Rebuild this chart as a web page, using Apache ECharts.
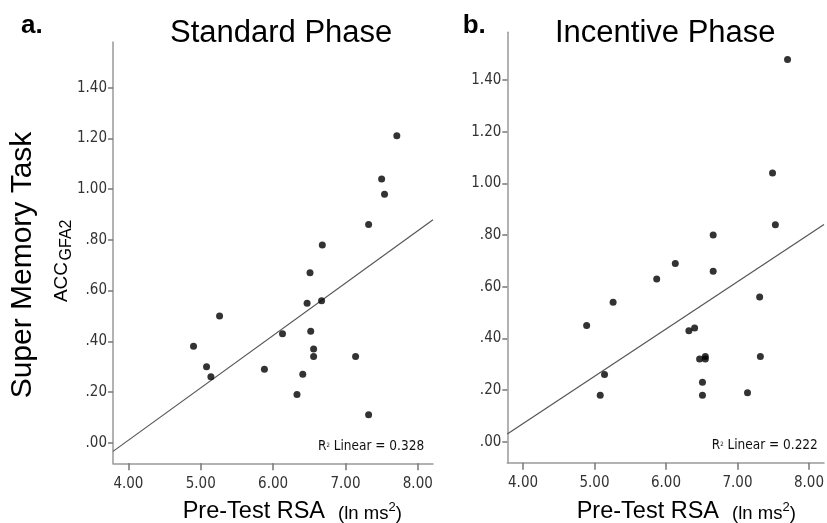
<!DOCTYPE html>
<html><head><meta charset="utf-8">
<script src="https://cdn.jsdelivr.net/npm/echarts@6/dist/echarts.min.js"></script>
<style>html,body{margin:0;padding:0;background:#fff}#c{width:827px;height:523px}</style>
</head><body><div id="c"></div>
<script>
// ---- data ----
const stdRSA = [7.71,7.50,7.54,7.32,6.68,6.51,6.47,6.67,5.26,6.13,6.52,6.56,6.56,7.14,4.90,5.08,5.14,5.88,6.41,6.33,7.32];
const stdACC = [1.21,1.04,0.98,0.86,0.78,0.67,0.55,0.56,0.50,0.43,0.44,0.37,0.34,0.34,0.38,0.30,0.26,0.29,0.27,0.19,0.11];
const incRSA = [7.70,7.49,7.53,6.66,6.13,6.66,5.87,7.31,5.26,4.89,6.32,6.40,6.47,6.55,6.55,7.32,5.14,6.51,6.51,7.14,5.08];
const incACC = [1.48,1.04,0.84,0.80,0.69,0.66,0.63,0.56,0.54,0.45,0.43,0.44,0.32,0.33,0.32,0.33,0.26,0.23,0.18,0.19,0.18];
const xTicks = [4,5,6,7,8];
const xTickLabels = ['4.00','5.00','6.00','7.00','8.00'];
const yTicks = [0,0.2,0.4,0.6,0.8,1.0,1.2,1.4];
const yTickLabels = ['.00','.20','.40','.60','.80','1.00','1.20','1.40'];
const panelTitles = ['Standard Phase','Incentive Phase'];
const panelLetters = ['a.','b.'];
const rSquared = ['0.328','0.222'];
const xAxisTitle = 'Pre-Test RSA';
const xAxisUnit = '(ln ms';
const yAxisTitle = 'Super Memory Task';
const yAxisSub = ['ACC','GFA2'];

// axis extents
const xRange = [[3.787, 8.21],[3.78, 8.21]];
const yRange = [[-0.081, 1.58],[-0.081, 1.585]];

function fit(xs, ys){
  const n = xs.length;
  const mx = xs.reduce((a,b)=>a+b,0)/n, my = ys.reduce((a,b)=>a+b,0)/n;
  let sxy=0, sxx=0;
  for (let i=0;i<n;i++){ sxy+=(xs[i]-mx)*(ys[i]-my); sxx+=(xs[i]-mx)**2; }
  const b = sxy/sxx; return {a: my-b*mx, b};
}
function lineData(xs, ys, r){
  const f = fit(xs, ys);
  return [[r[0], f.a+f.b*r[0]],[r[1], f.a+f.b*r[1]]];
}
function lab(ticks, labels){
  return v => { const i = ticks.findIndex(t => Math.abs(t-v) < 1e-6); return i>=0 ? labels[i] : ''; };
}
const narrow = '"DejaVu Sans Condensed","Liberation Sans Narrow",sans-serif';
const sans = '"Liberation Sans",Arial,sans-serif';
const axisLine = {show:true, onZero:false, lineStyle:{color:'#999', width:1.5}};
const tickStyle = {color:'#777', width:1.5};

function xAxisFor(i){
  return {gridIndex:i, type:'value', min:xRange[i][0], max:xRange[i][1],
    axisLine, splitLine:{show:false},
    axisTick:{show:true, length:7, lineStyle:tickStyle, customValues:xTicks},
    axisLabel:{customValues:xTicks, formatter:lab(xTicks,xTickLabels), margin:13,
      fontFamily:narrow, fontSize:15, color:'#333', showMinLabel:true, showMaxLabel:true}};
}
function yAxisFor(i){
  return {gridIndex:i, type:'value', min:yRange[i][0], max:yRange[i][1],
    axisLine, splitLine:{show:false},
    axisTick:{show:true, length:5, lineStyle:tickStyle, customValues:yTicks},
    axisLabel:{customValues:yTicks, formatter:lab(yTicks,yTickLabels), margin:6,
      fontFamily:narrow, fontSize:15, color:'#333', padding:[6,0,0,0]}};
}
function scatter(i, xs, ys){
  return {type:'scatter', xAxisIndex:i, yAxisIndex:i, symbolSize:7,
    itemStyle:{color:'#000'}, data: xs.map((x,k)=>[x, ys[k]]), z:3};
}
function regline(i, xs, ys){
  return {type:'line', xAxisIndex:i, yAxisIndex:i, symbol:'none', clip:true,
    lineStyle:{color:'#555', width:1.2}, data: lineData(xs, ys, xRange[i]), z:2};
}
function xTitle(x){
  return {type:'text', x:x, y:510.2, silent:true, style:{
    text:'{t|'+xAxisTitle+'  }{u|'+xAxisUnit+'}{s|2}{u|)}',
    textAlign:'left', textVerticalAlign:'middle', fill:'#000',
    rich:{t:{fontFamily:sans, fontSize:23.5, verticalAlign:'bottom', lineHeight:26},
          u:{fontFamily:sans, fontSize:18.5, verticalAlign:'bottom', lineHeight:25},
          s:{fontFamily:sans, fontSize:13, verticalAlign:'middle', lineHeight:16, padding:[0,0,5,0]}}}};
}
function rText(x, y, v){
  return {type:'text', x:x, y:y, silent:true, style:{
    text:'{r|R}{s|2}{r| Linear = '+v+'}', textAlign:'left', textVerticalAlign:'middle', fill:'#111',
    rich:{r:{fontFamily:narrow, fontSize:13.5, verticalAlign:'bottom', lineHeight:16},
          s:{fontFamily:narrow, fontSize:6, verticalAlign:'middle', lineHeight:16}}}};
}

const chart = echarts.init(document.getElementById('c'), null, {renderer:'canvas'});
chart.setOption({
  animation:false,
  backgroundColor:'#fff',
  grid:[{left:113, top:42, width:320, height:421.3},
        {left:507.3, top:32.3, width:319.7, height:430.4}],
  xAxis:[xAxisFor(0), xAxisFor(1)],
  yAxis:[yAxisFor(0), yAxisFor(1)],
  series:[regline(0, stdRSA, stdACC), scatter(0, stdRSA, stdACC),
          regline(1, incRSA, incACC), scatter(1, incRSA, incACC)],
  graphic:[
    {type:'text', x:21, y:26, silent:true, style:{text:panelLetters[0], font:'bold 26px '+sans, fill:'#000', textAlign:'left', textVerticalAlign:'middle'}},
    {type:'text', x:462.7, y:26, silent:true, style:{text:panelLetters[1], font:'bold 26px '+sans, fill:'#000', textAlign:'left', textVerticalAlign:'middle'}},
    {type:'text', x:170, y:33.3, silent:true, style:{text:panelTitles[0], font:'31px '+sans, fill:'#000', textAlign:'left', textVerticalAlign:'middle'}},
    {type:'text', x:555, y:33.3, silent:true, style:{text:panelTitles[1], font:'31px '+sans, fill:'#000', textAlign:'left', textVerticalAlign:'middle'}},
    {type:'text', x:23, y:265, rotation:Math.PI/2, silent:true, style:{text:yAxisTitle, font:'30px '+sans, fill:'#000', textAlign:'center', textVerticalAlign:'middle'}},
    {type:'text', x:61.7, y:282, rotation:Math.PI/2, silent:true, style:{text:yAxisSub[0], font:'19px '+sans, fill:'#000', textAlign:'center', textVerticalAlign:'middle'}},
    {type:'text', x:66.2, y:240, rotation:Math.PI/2, silent:true, style:{text:yAxisSub[1], font:'16px '+sans, fill:'#000', textAlign:'center', textVerticalAlign:'middle'}},
    xTitle(182.7), xTitle(576.7),
    rText(318, 445, rSquared[0]), rText(711.7, 444.3, rSquared[1])
  ]
});
</script></body></html>
